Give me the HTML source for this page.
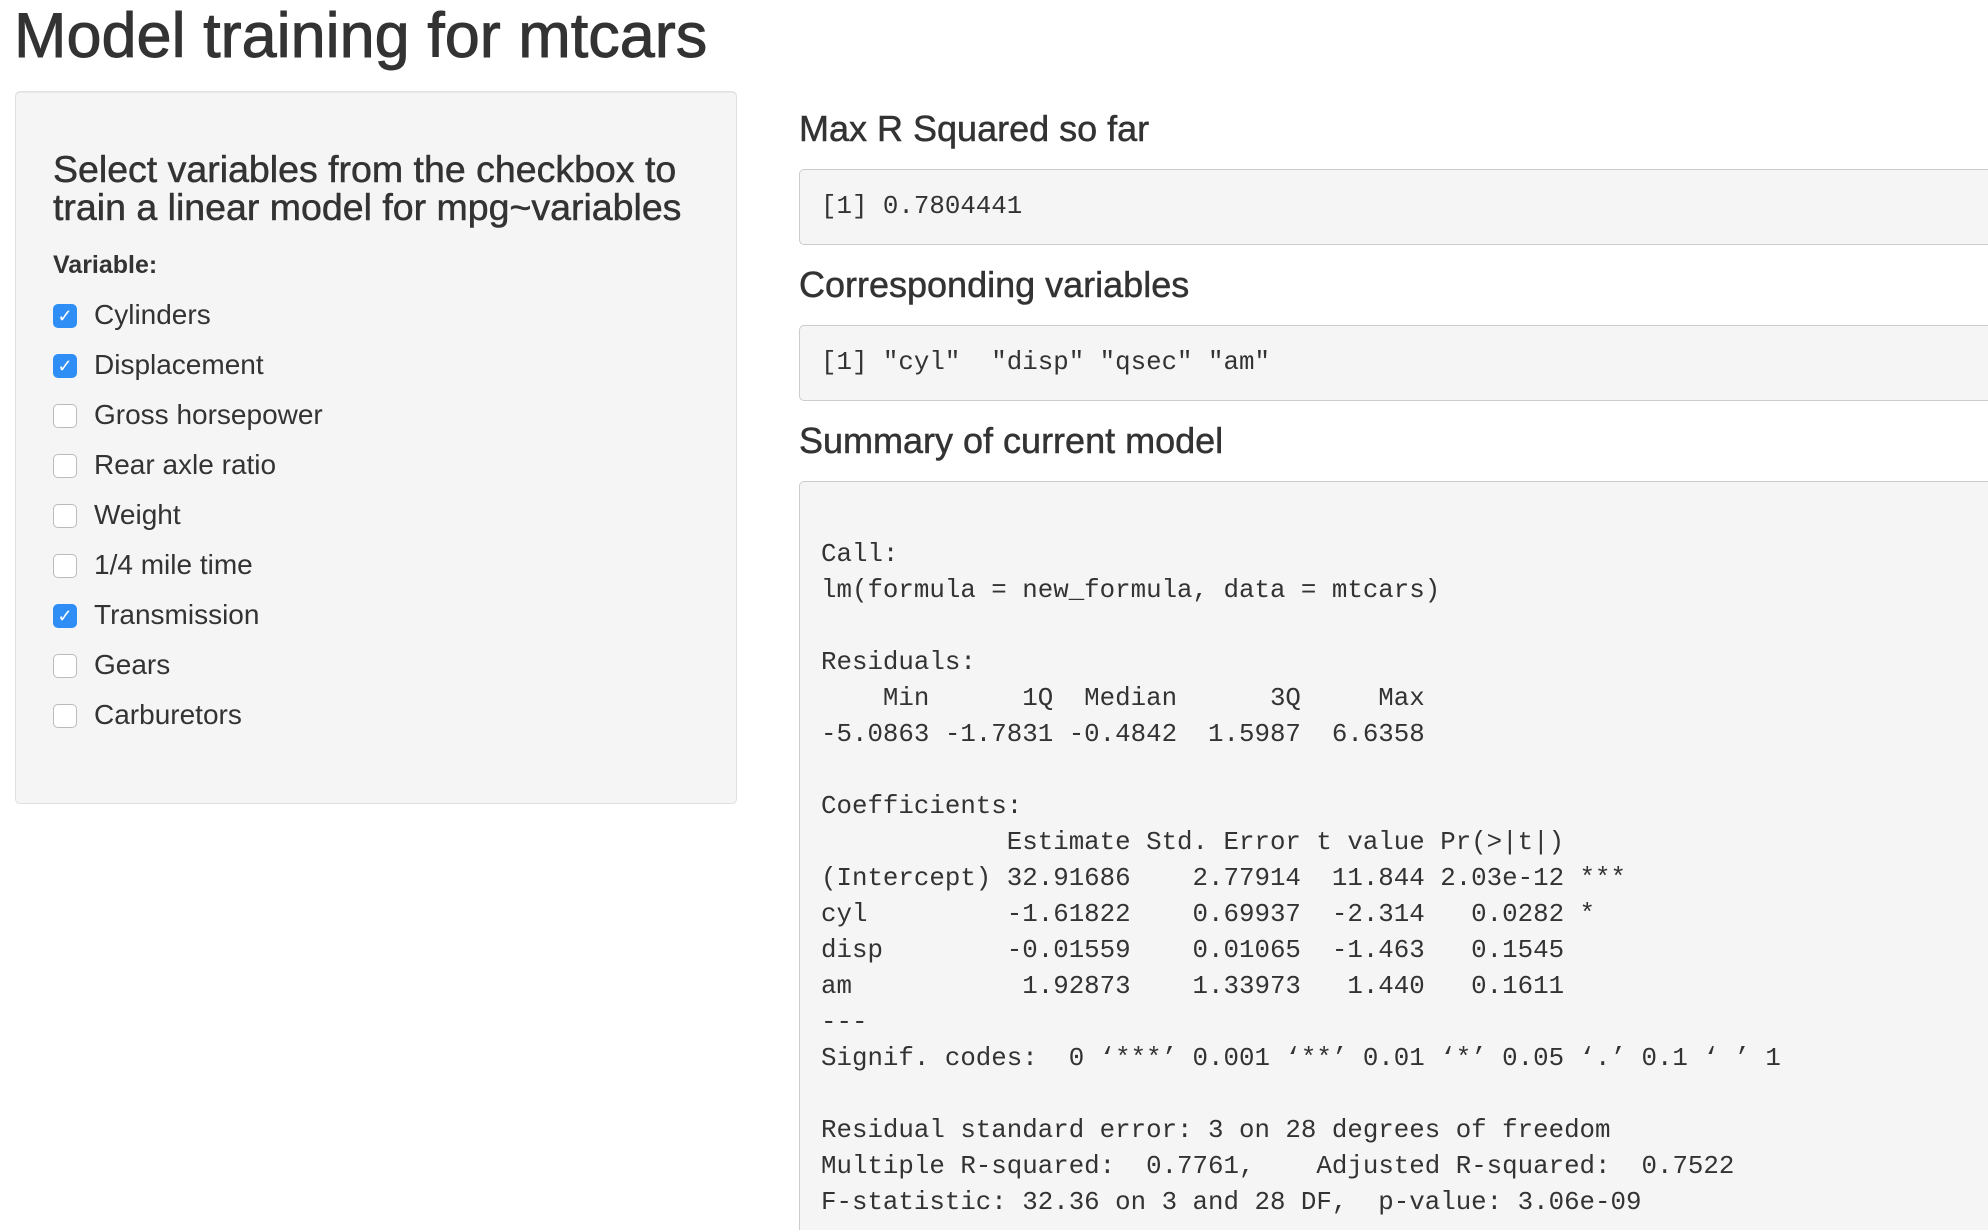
<!DOCTYPE html>
<html style="overflow:hidden;width:1988px;height:1230px"><head><meta charset="utf-8"><style>
html,body{margin:0;width:1988px;height:1230px;overflow:hidden}
body{background:#fff;font-family:"Liberation Sans",sans-serif;color:#333;position:relative}
#wrap{position:absolute;left:0;top:0;width:1988px;height:1230px;overflow:hidden}
.abs{position:absolute}
h1{position:absolute;left:14px;top:1px;margin:0;font-size:63px;font-weight:normal;line-height:70px;color:#333;-webkit-text-stroke:0.9px #333}
.panel{left:15px;top:91px;width:720px;height:711px;background:#f5f5f5;border:1px solid #e0e0e0;border-radius:5px;box-shadow:inset 0 1px 1px rgba(0,0,0,.05)}
.ph{left:53px;top:150px;font-size:37.5px;line-height:38px;margin:0;font-weight:normal;-webkit-text-stroke:0.5px #333}
.lbl{left:53px;top:251px;font-size:25px;font-weight:bold}
.cb{left:53px;width:22px;height:22px;border:1px solid #bbb;border-radius:5px;background:#fff}
.cb.on{background:#2f8ef6;border-color:#2f8ef6;color:#fff;font-size:18px;line-height:22px;text-align:center}
.cl{left:94px;font-size:28px;line-height:32px}
.h4{left:799px;font-size:36px;line-height:40px;-webkit-text-stroke:0.5px #333}
pre{position:absolute;margin:0;left:799px;width:1300px;background:#f5f5f5;border:1px solid #ccc;border-radius:5px;font-family:"Liberation Mono",monospace;font-size:25.8px;line-height:36px;padding:19px 0 19px 21px;color:#333}
</style></head><body>
<div id="wrap">
<h1>Model training for mtcars</h1>
<div class="abs panel"></div>
<div class="abs ph">Select variables from the checkbox to<br>train a linear model for mpg~variables</div>
<div class="abs lbl">Variable:</div>
<div id="cbs"></div>
<div class="abs h4" style="top:109px">Max R Squared so far</div>
<pre style="top:169px;height:36px">[1] 0.7804441</pre>
<div class="abs h4" style="top:265px">Corresponding variables</div>
<pre style="top:325px;height:36px">[1] "cyl"  "disp" "qsec" "am"</pre>
<div class="abs h4" style="top:421px">Summary of current model</div>
<pre style="top:481px;height:760px">

Call:
lm(formula = new_formula, data = mtcars)

Residuals:
    Min      1Q  Median      3Q     Max 
-5.0863 -1.7831 -0.4842  1.5987  6.6358 

Coefficients:
            Estimate Std. Error t value Pr(>|t|)    
(Intercept) 32.91686    2.77914  11.844 2.03e-12 ***
cyl         -1.61822    0.69937  -2.314   0.0282 *  
disp        -0.01559    0.01065  -1.463   0.1545    
am           1.92873    1.33973   1.440   0.1611    
---
Signif. codes:  0 ‘***’ 0.001 ‘**’ 0.01 ‘*’ 0.05 ‘.’ 0.1 ‘ ’ 1

Residual standard error: 3 on 28 degrees of freedom
Multiple R-squared:  0.7761,	Adjusted R-squared:  0.7522 
F-statistic: 32.36 on 3 and 28 DF,  p-value: 3.06e-09</pre>
</div>
<script>
const labels=["Cylinders","Displacement","Gross horsepower","Rear axle ratio","Weight","1/4 mile time","Transmission","Gears","Carburetors"];
const checked=[true,true,false,false,false,false,true,false,false];
const host=document.getElementById('cbs');
labels.forEach((t,i)=>{
  const y=316+i*50;
  const b=document.createElement('div');
  b.className='abs cb'+(checked[i]?' on':'');
  b.style.top=(y-12)+'px';
  if(checked[i]) b.textContent='✓';
  
  
  host.appendChild(b);
  const l=document.createElement('div');
  l.className='abs cl';
  l.style.top=(y-17)+'px';
  l.textContent=t;
  
  
  host.appendChild(l);
});
</script>
</body></html>
